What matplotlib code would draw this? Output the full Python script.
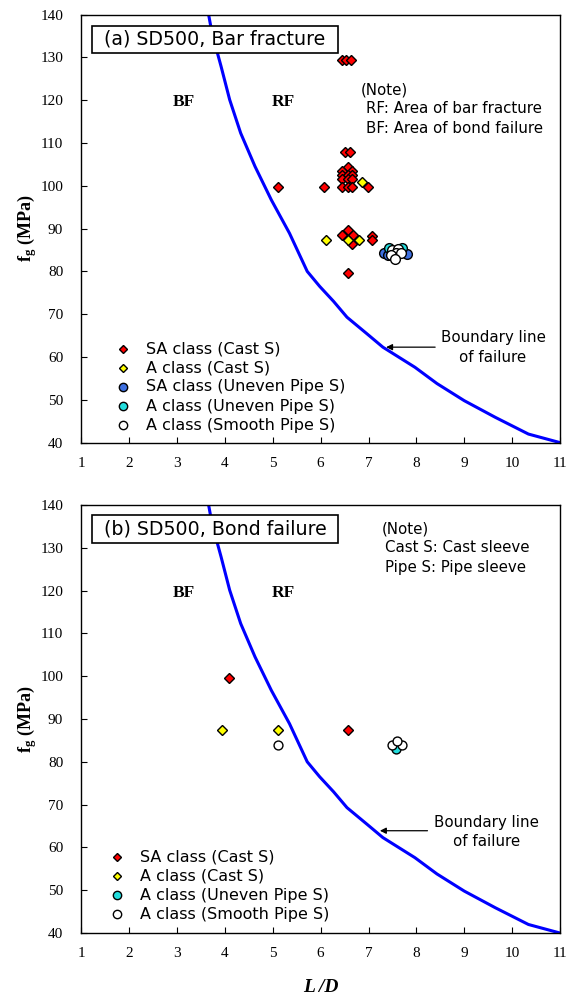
import numpy as np
import matplotlib
matplotlib.use('agg')
import matplotlib.pyplot as plt
from matplotlib.patches import Rectangle

plt.rcParams['mathtext.fontset'] = 'custom'
plt.rcParams['mathtext.bf'] = 'Liberation Serif:bold'
plt.rcParams['mathtext.rm'] = 'Liberation Serif'

SERIF = 'Liberation Serif'
SANS = 'DejaVu Sans'

# boundary line of failure
curve_x = [3.66, 3.73, 3.92, 4.10, 4.33, 4.63, 4.97, 5.35, 5.72, 5.98, 6.27, 6.55, 6.97,
           7.30, 7.97, 8.43, 9.00, 9.65, 10.34, 11.0]
curve_y = [140, 135.7, 127.9, 120.1, 112.3, 104.5, 96.7, 88.9, 80.0, 76.5, 73.0, 69.3, 65.4,
           62.3, 57.6, 53.8, 49.8, 45.9, 42.0, 40]

# (a) bar fracture
a_sa_cast_x = [6.44, 6.54, 6.63, 6.51, 6.62, 6.58, 6.45, 6.65, 6.45, 6.58, 6.65, 6.45, 6.58, 6.65,
               5.11, 6.06, 6.45, 6.58, 6.65, 6.99, 6.58, 6.45, 6.67, 6.65, 7.07, 7.07, 6.58]
a_sa_cast_y = [129.5, 129.5, 129.5, 107.8, 107.8, 104.5, 103.5, 103.5, 102.5, 102.5, 102.5, 101.5, 101.5, 101.5,
               99.6, 99.6, 99.6, 99.6, 99.6, 99.6, 89.6, 88.5, 88.5, 86.4, 88.2, 87.3, 79.7]
a_a_cast_x = [6.86, 6.12, 6.58, 6.81]
a_a_cast_y = [100.8, 87.3, 87.3, 87.3]
a_sa_uneven_x = [7.33, 7.40, 7.80]
a_sa_uneven_y = [84.4, 83.8, 84.0]
a_a_uneven_x = [7.43, 7.70]
a_a_uneven_y = [85.4, 85.4]
a_smooth_x = [7.50, 7.62, 7.58, 7.47, 7.68, 7.55]
a_smooth_y = [84.9, 85.3, 84.2, 83.8, 84.3, 82.9]

# (b) bond failure
b_sa_cast_x = [4.08, 6.57]
b_sa_cast_y = [99.6, 87.4]
b_a_cast_x = [3.93, 5.11]
b_a_cast_y = [87.4, 87.4]
b_a_uneven_x = [7.58]
b_a_uneven_y = [82.9]
b_smooth_x = [5.11, 7.49, 7.69, 7.60]
b_smooth_y = [83.9, 83.9, 83.9, 84.9]

RED = '#FF0000'
YEL = '#FFFF00'
BLU = '#3D6FE0'
CYA = '#22DDDD'


def setup_axes(ax):
    ax.set_xlim(1, 11)
    ax.set_ylim(40, 140)
    ax.set_xticks(range(1, 12))
    ax.set_yticks(range(40, 141, 10))
    ax.tick_params(direction='in', length=4, width=0.8, labelsize=11)
    ax.xaxis.set_tick_params(pad=10)
    ax.yaxis.set_tick_params(pad=13)
    for lab in ax.get_xticklabels() + ax.get_yticklabels():
        lab.set_fontfamily(SERIF)
    for sp in ax.spines.values():
        sp.set_linewidth(1.0)
    ax.plot(curve_x, curve_y, color='#0000FF', lw=2.2, zorder=2)
    ax.text(3.15, 119.5, 'BF', fontfamily=SERIF, fontweight='bold', fontsize=12.5, ha='center', va='center')
    ax.text(5.22, 119.5, 'RF', fontfamily=SERIF, fontweight='bold', fontsize=12.5, ha='center', va='center')
    ax.set_ylabel(r'$\mathbf{f_g}$ (MPa)', fontfamily=SERIF, fontweight='bold', fontsize=13, labelpad=1)


def title_box(ax, text, y0, y1):
    ax.add_patch(Rectangle((1.225, y0), 6.36 - 1.225, y1 - y0, fc='white', ec='black',
                           lw=1.2, zorder=5))
    ax.text(1.47, (y0 + y1) / 2, text, fontfamily=SANS, fontsize=13.7, va='center', ha='left', zorder=6)


def diamonds(ax, x, y, c, ms=5.0):
    ax.plot(x, y, 'D', ms=ms, mfc=c, mec='black', mew=1.0, ls='none', zorder=3)


def circles(ax, x, y, c, ms=7):
    ax.plot(x, y, 'o', ms=ms, mfc=c, mec='black', mew=1.0, ls='none', zorder=3)


def legend_rows(ax, rows, x_mark, x_text, y0, dy):
    for i, (label, marker, c, ms) in enumerate(rows):
        yy = y0 - i * dy
        ax.plot([x_mark], [yy], marker, ms=ms, mfc=c, mec='black', mew=1.0,
                transform=ax.transAxes, clip_on=False, zorder=4)
        ax.text(x_text, yy, label, transform=ax.transAxes, fontfamily=SANS, fontsize=11.5,
                va='center', ha='left')


fig = plt.figure(figsize=(5.74, 9.98), dpi=100)
ax1 = fig.add_axes([0.1416, 0.5565, 0.8340, 0.4289])
ax2 = fig.add_axes([0.1416, 0.0651, 0.8340, 0.4289])

# ---- (a)
setup_axes(ax1)
diamonds(ax1, a_sa_cast_x, a_sa_cast_y, RED)
diamonds(ax1, a_a_cast_x, a_a_cast_y, YEL)
circles(ax1, a_sa_uneven_x, a_sa_uneven_y, BLU)
circles(ax1, a_a_uneven_x, a_a_uneven_y, CYA)
circles(ax1, a_smooth_x, a_smooth_y, 'white')
title_box(ax1, '(a) SD500, Bar fracture', 131.1, 137.4)
ax1.text(6.83, 122.4, '(Note)', fontfamily=SANS, fontsize=10.8, va='center')
ax1.text(6.95, 118.1, 'RF: Area of bar fracture', fontfamily=SANS, fontsize=10.8, va='center')
ax1.text(6.95, 113.5, 'BF: Area of bond failure', fontfamily=SANS, fontsize=10.8, va='center')
ax1.annotate('', xy=(7.31, 62.3), xytext=(8.45, 62.3),
             arrowprops=dict(arrowstyle='-|>', color='black', lw=0.9, mutation_scale=9))
ax1.text(9.6, 64.5, 'Boundary line', fontfamily=SANS, fontsize=10.8, ha='center', va='center')
ax1.text(9.6, 60.0, 'of failure', fontfamily=SANS, fontsize=10.8, ha='center', va='center')
legend_rows(ax1, [('SA class (Cast S)', 'D', RED, 4),
                  ('A class (Cast S)', 'D', YEL, 4),
                  ('SA class (Uneven Pipe S)', 'o', BLU, 6),
                  ('A class (Uneven Pipe S)', 'o', CYA, 6),
                  ('A class (Smooth Pipe S)', 'o', 'white', 6)],
            0.088, 0.135, 0.219, 0.0445)

# ---- (b)
setup_axes(ax2)
diamonds(ax2, b_sa_cast_x, b_sa_cast_y, RED, ms=4.6)
diamonds(ax2, b_a_cast_x, b_a_cast_y, YEL, ms=4.6)
circles(ax2, b_a_uneven_x, b_a_uneven_y, CYA, ms=6.4)
circles(ax2, b_smooth_x, b_smooth_y, 'white', ms=6.4)
title_box(ax2, '(b) SD500, Bond failure', 131.1, 137.6)
ax2.text(7.27, 134.4, '(Note)', fontfamily=SANS, fontsize=10.8, va='center')
ax2.text(7.35, 130.0, 'Cast S: Cast sleeve', fontfamily=SANS, fontsize=10.8, va='center')
ax2.text(7.35, 125.3, 'Pipe S: Pipe sleeve', fontfamily=SANS, fontsize=10.8, va='center')
ax2.annotate('', xy=(7.18, 63.9), xytext=(8.29, 63.9),
             arrowprops=dict(arrowstyle='-|>', color='black', lw=0.9, mutation_scale=9))
ax2.text(9.47, 65.8, 'Boundary line', fontfamily=SANS, fontsize=10.8, ha='center', va='center')
ax2.text(9.47, 61.3, 'of failure', fontfamily=SANS, fontsize=10.8, ha='center', va='center')
legend_rows(ax2, [('SA class (Cast S)', 'D', RED, 4),
                  ('A class (Cast S)', 'D', YEL, 4),
                  ('A class (Uneven Pipe S)', 'o', CYA, 6),
                  ('A class (Smooth Pipe S)', 'o', 'white', 6)],
            0.075, 0.123, 0.177, 0.0445)
ax2.set_xlabel('L /D', fontfamily=SERIF, fontweight='bold', fontstyle='italic', fontsize=14, labelpad=14)

fig.savefig('out.png', dpi=100)
